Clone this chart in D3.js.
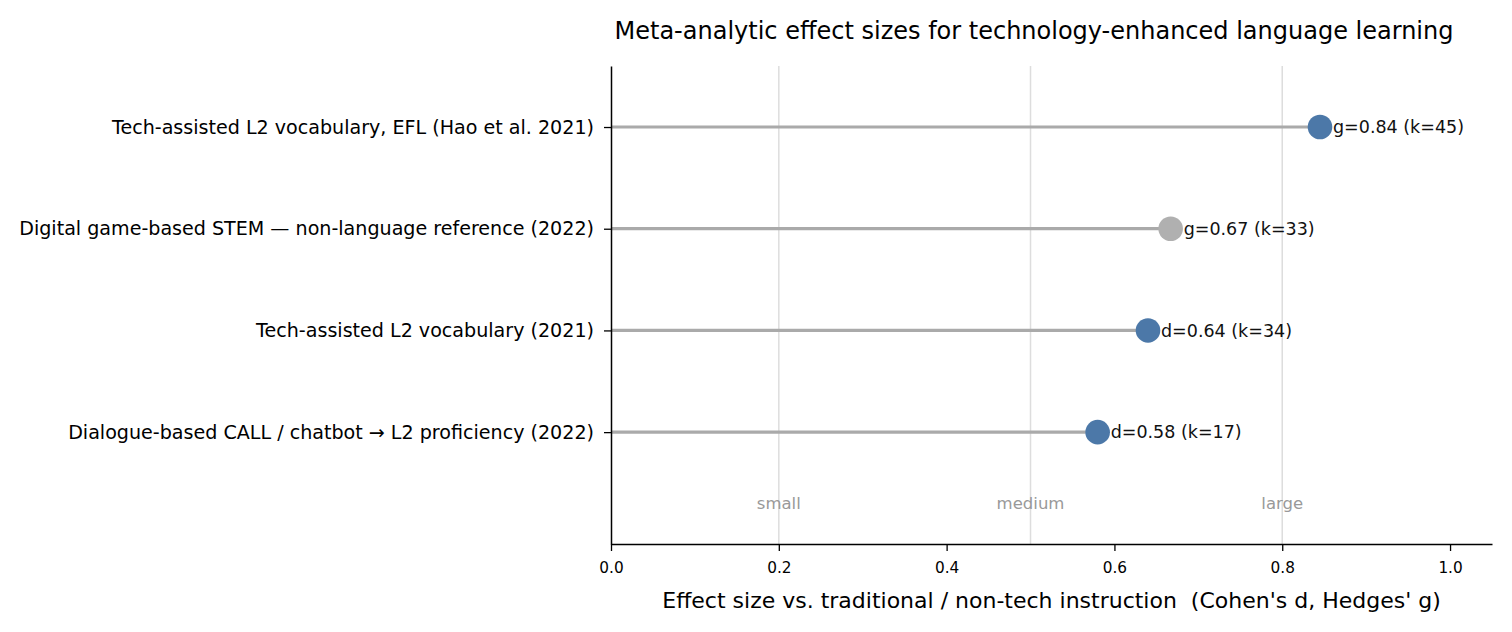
<!DOCTYPE html>
<html lang="en">
<head>
<meta charset="utf-8">
<title>Meta-analytic effect sizes</title>
<script src="https://cdn.jsdelivr.net/npm/d3@7"></script>
<style>
  body { margin: 0; background: #fff; }
  svg { font-family: "DejaVu Sans", sans-serif; }
</style>
</head>
<body>
<script>
// data
var studies = [
  "Tech-assisted L2 vocabulary, EFL (Hao et al. 2021)",
  "Digital game-based STEM \u2014 non-language reference (2022)",
  "Tech-assisted L2 vocabulary (2021)",
  "Dialogue-based CALL / chatbot \u2192 L2 proficiency (2022)"
];
var effects = [0.845, 0.667, 0.64, 0.58];
var metrics = ["g", "g", "d", "d"];
var kCounts = [45, 33, 34, 17];
var kinds = ["language", "reference", "language", "language"];

var benchmarks = [0.2, 0.5, 0.8];
var benchmarkNames = ["small", "medium", "large"];
var xTicks = [0, 0.2, 0.4, 0.6, 0.8, 1.0];

var w = 1512, h = 632;
var plotLeft = 611, plotRight = 1492, plotTop = 66, plotBottom = 544;

var fmt = d3.format(".2f");

var xScale = d3.scaleLinear().domain([0, 1.05]).range([plotLeft, plotRight]);
// rows indexed 0..3 from the top, with space below for benchmark names
var yScale = d3.scaleLinear().domain([-0.6, 4.1]).range([plotTop, plotBottom]);
var colour = d3.scaleOrdinal().domain(["language", "reference"]).range(["#4c78a8", "#b0b0b0"]);

var svg = d3.select("body").append("svg")
  .attr("width", w)
  .attr("height", h);

// benchmark guide lines
svg.selectAll("line.bench")
  .data(benchmarks)
  .enter()
  .append("line")
  .attr("class", "bench")
  .attr("x1", function(d) { return xScale(d); })
  .attr("x2", function(d) { return xScale(d); })
  .attr("y1", plotTop)
  .attr("y2", plotBottom)
  .attr("stroke", "#dddddd")
  .attr("stroke-width", 1.5);

svg.selectAll("text.bench")
  .data(benchmarks)
  .enter()
  .append("text")
  .attr("class", "bench")
  .attr("x", function(d) { return xScale(d); })
  .attr("y", yScale(3.7))
  .attr("dy", "0.35em")
  .attr("text-anchor", "middle")
  .attr("font-size", "16.5px")
  .attr("fill", "#999999")
  .text(function(d, i) { return benchmarkNames[i]; });

// stems
svg.selectAll("line.stem")
  .data(effects)
  .enter()
  .append("line")
  .attr("class", "stem")
  .attr("x1", xScale(0))
  .attr("x2", function(d) { return xScale(d); })
  .attr("y1", function(d, i) { return yScale(i); })
  .attr("y2", function(d, i) { return yScale(i); })
  .attr("stroke", "#aaaaaa")
  .attr("stroke-width", 3.2);

// dots
svg.selectAll("circle")
  .data(effects)
  .enter()
  .append("circle")
  .attr("cx", function(d) { return xScale(d); })
  .attr("cy", function(d, i) { return yScale(i); })
  .attr("r", 12.3)
  .attr("fill", function(d, i) { return colour(kinds[i]); });

// value labels
svg.selectAll("text.value")
  .data(effects)
  .enter()
  .append("text")
  .attr("class", "value")
  .attr("x", function(d) { return xScale(d) + 13; })
  .attr("y", function(d, i) { return yScale(i); })
  .attr("dy", "0.35em")
  .attr("font-size", "17.5px")
  .attr("fill", "#111")
  .text(function(d, i) { return metrics[i] + "=" + fmt(d) + " (k=" + kCounts[i] + ")"; });

// x axis
var xAxis = d3.axisBottom(xScale)
  .tickValues(xTicks)
  .tickFormat(d3.format(".1f"))
  .tickSizeInner(7)
  .tickSizeOuter(0)
  .tickPadding(11);

var gx = svg.append("g")
  .attr("transform", "translate(0," + plotBottom + ")")
  .call(xAxis);
gx.select(".domain").attr("stroke", "#000").attr("stroke-width", 1.5);
gx.selectAll(".tick line").attr("stroke", "#000").attr("stroke-width", 1.3);
gx.selectAll(".tick text").attr("font-size", "15.3px").attr("font-family", "DejaVu Sans").attr("fill", "#000");

// y axis
var yAxis = d3.axisLeft(yScale)
  .tickValues(d3.range(studies.length))
  .tickFormat(function(d) { return studies[d]; })
  .tickSizeInner(7)
  .tickSizeOuter(0)
  .tickPadding(10);

var gy = svg.append("g")
  .attr("transform", "translate(" + plotLeft + ",0)")
  .call(yAxis);
gy.select(".domain").attr("stroke", "#000").attr("stroke-width", 1.5);
gy.selectAll(".tick line").attr("stroke", "#000").attr("stroke-width", 1.3);
gy.selectAll(".tick text").attr("font-size", "19.1px").attr("font-family", "DejaVu Sans").attr("fill", "#000");

// titles
svg.append("text")
  .attr("x", 1034)
  .attr("y", 39)
  .attr("text-anchor", "middle")
  .attr("font-size", "24px")
  .attr("fill", "#000")
  .text("Meta-analytic effect sizes for technology-enhanced language learning");

svg.append("text")
  .attr("x", (plotLeft + plotRight) / 2)
  .attr("y", 608)
  .attr("text-anchor", "middle")
  .attr("font-size", "22px")
  .attr("fill", "#000")
  .style("white-space", "pre")
  .text("Effect size vs. traditional / non-tech instruction  (Cohen's d, Hedges' g)");
</script>
</body>
</html>
